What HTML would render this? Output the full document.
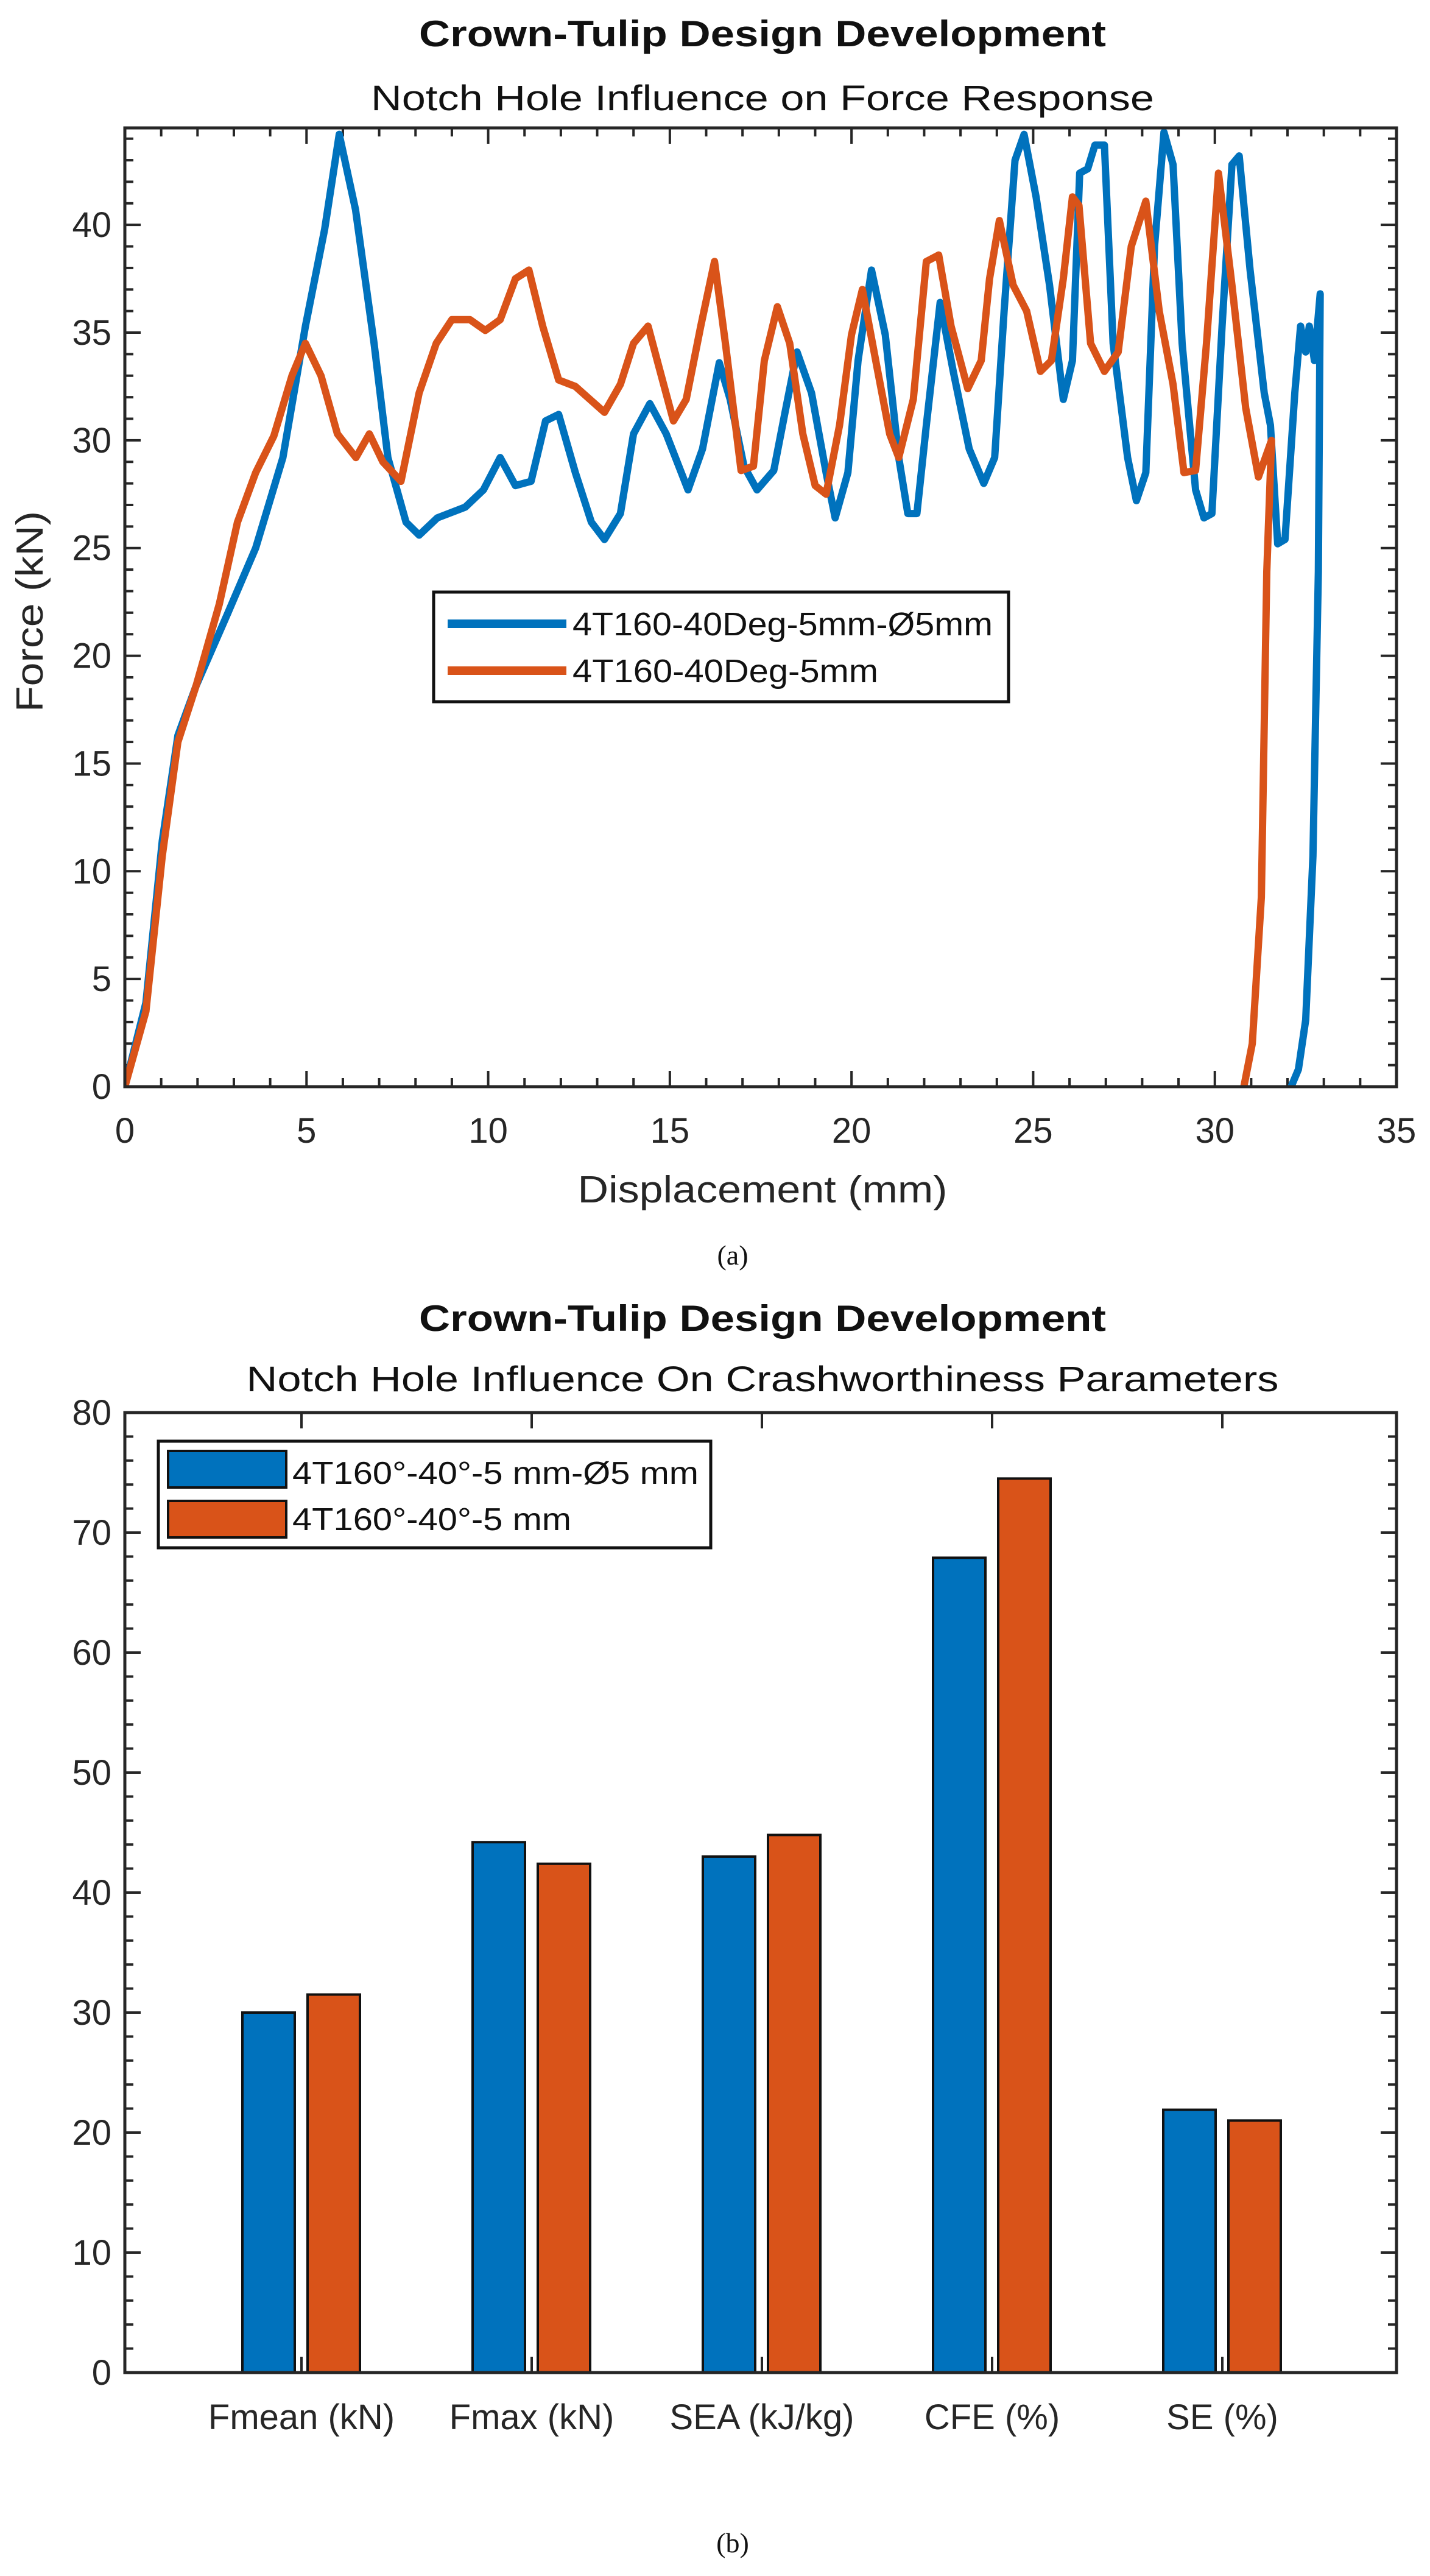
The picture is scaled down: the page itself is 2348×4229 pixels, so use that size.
<!DOCTYPE html>
<html><head><meta charset="utf-8"><style>
html,body{margin:0;padding:0;background:#fff}
svg{display:block;font-family:"Liberation Sans",Arial,sans-serif}
</style></head><body>
<svg id="svg" width="2348" height="4229" viewBox="0 0 2348 4229" xmlns="http://www.w3.org/2000/svg">
<rect width="2348" height="4229" fill="#fff"/>
<g id="top"></g>
<g id="bot"></g>
</svg>
<script>
// ---- chart (a) data ----
const blueX=[0,0.58,1.03,1.46,1.96,2.84,3.6,4.35,4.97,5.5,5.9,6.35,6.86,7.24,7.74,8.1,8.6,9.37,9.87,10.33,10.75,11.18,11.58,11.94,12.4,12.84,13.2,13.64,14,14.45,14.9,15.5,15.9,16.36,16.66,17.04,17.4,17.86,18.17,18.5,18.9,19.3,19.55,19.9,20.18,20.55,20.93,21.3,21.55,21.8,22.06,22.44,22.8,23.24,23.64,23.94,24.2,24.5,24.75,25.08,25.45,25.83,26.08,26.28,26.5,26.7,26.96,27.2,27.6,27.84,28.1,28.34,28.6,28.85,29.1,29.47,29.7,29.92,30.2,30.47,30.67,30.97,31.36,31.53,31.73,31.93,32.2,32.36,32.5,32.6,32.74,32.9,32.85,32.7,32.5,32.3,32.1];
const blueY=[0,3.9,11.4,16.3,18.6,22,25,29.2,35.3,39.8,44.2,40.7,34.5,29.2,26.2,25.6,26.4,26.9,27.7,29.2,27.9,28.1,30.9,31.2,28.5,26.2,25.4,26.6,30.3,31.7,30.3,27.7,29.6,33.6,31.9,28.8,27.7,28.6,31.3,34.1,32.2,28.5,26.4,28.5,33.7,37.9,34.9,29.2,26.6,26.6,30.7,36.4,33.2,29.6,28,29.2,36,43,44.2,41.3,37.2,31.9,33.7,42.4,42.6,43.7,43.7,34.5,29.2,27.2,28.5,39,44.3,42.8,34.5,27.7,26.4,26.6,35.3,42.8,43.2,37.9,32.2,30.7,25.2,25.4,32.2,35.3,34.1,35.3,33.7,36.8,23.9,10.7,3.1,0.8,0];
const orangeX=[0,0.58,1.03,1.46,1.96,2.6,3.1,3.6,4.1,4.6,4.97,5.4,5.85,6.36,6.73,7.1,7.6,8.1,8.57,9,9.5,9.92,10.33,10.75,11.12,11.5,11.94,12.4,13.2,13.64,14,14.4,14.7,15.1,15.45,15.85,16.23,16.53,16.96,17.3,17.6,17.96,18.3,18.66,19,19.3,19.67,20,20.3,20.7,21.05,21.3,21.7,22.06,22.4,22.74,23.2,23.57,23.8,24.07,24.45,24.82,25.2,25.5,25.83,26.08,26.26,26.58,26.96,27.34,27.7,28.1,28.47,28.85,29.15,29.47,29.77,30.1,30.47,30.85,31.2,31.56,31.43,31.28,31.03,30.8];
const orangeY=[0,3.5,10.7,16,18.6,22.4,26.2,28.5,30.2,33,34.5,33,30.3,29.2,30.3,29,28.1,32.2,34.5,35.6,35.6,35.1,35.6,37.5,37.9,35.3,32.8,32.5,31.3,32.6,34.5,35.3,33.4,30.9,31.9,35.3,38.3,34.5,28.6,28.8,33.7,36.2,34.5,30.3,27.9,27.5,30.7,34.9,37,33.4,30.3,29.2,31.9,38.3,38.6,35.3,32.4,33.7,37.5,40.2,37.2,36,33.2,33.7,37.5,41.3,40.9,34.5,33.2,34.1,39,41.1,36,32.6,28.5,28.6,34.5,42.4,37.2,31.5,28.3,30,23.9,8.8,2,0];
const xTicksA=[0,5,10,15,20,25,30,35];
const yTicksA=[0,5,10,15,20,25,30,35,40];
// ---- chart (b) data ----
const categories=["Fmean (kN)","Fmax (kN)","SEA (kJ/kg)","CFE (%)","SE (%)"];
const seriesHole=[30,44.2,43,67.9,21.9];
const seriesNoHole=[31.5,42.4,44.8,74.5,21];
const yTicksB=[0,10,20,30,40,50,60,70,80];

const NS="http://www.w3.org/2000/svg";
function mk(parent,tag,attrs,text){const e=document.createElementNS(NS,tag);for(const k in attrs)e.setAttribute(k,attrs[k]);if(text!==undefined)e.textContent=text;parent.appendChild(e);return e;}
const BLUE="#0072BD",ORANGE="#D95319",AX="#262626";

// ===== chart (a) =====
(function(){
const g=document.getElementById('top');
const L=205,R=2293,T=210,B=1784;
const xs=v=>L+(v-0)/(35-0)*(R-L);
const ys=v=>B-(v-0)/(44.5-0)*(B-T);
let t=mk(g,'text',{x:1252,y:76,'font-size':60,'font-weight':'bold','text-anchor':'middle',fill:'#111',textLength:1128,lengthAdjust:'spacingAndGlyphs'},'Crown-Tulip Design Development');

t=mk(g,'text',{x:1252,y:181,'font-size':58,'text-anchor':'middle',fill:'#111',textLength:1286,lengthAdjust:'spacingAndGlyphs'},'Notch Hole Influence on Force Response');

for(let v=0;v<=35;v++){const x=xs(v);const len=(v%5==0)?26:14;
 mk(g,'line',{x1:x,y1:B,x2:x,y2:B-len,stroke:AX,'stroke-width':4});
 mk(g,'line',{x1:x,y1:T,x2:x,y2:T+len,stroke:AX,'stroke-width':4});}
for(let v=0;v<=44;v++){const y=ys(v);const len=(v%5==0)?26:14;
 mk(g,'line',{x1:L,y1:y,x2:L+len,y2:y,stroke:AX,'stroke-width':4});
 mk(g,'line',{x1:R,y1:y,x2:R-len,y2:y,stroke:AX,'stroke-width':4});}
xTicksA.forEach(v=>{const e=mk(g,'text',{x:xs(v),y:1876,'font-size':58,'text-anchor':'middle',fill:AX},String(v));
 });
yTicksA.forEach(v=>{const e=mk(g,'text',{x:L-22,y:ys(v)+20,'font-size':58,'text-anchor':'end',fill:AX},String(v));
 });
const clip=mk(g,'clipPath',{id:'ca'});mk(clip,'rect',{x:L,y:T-10,width:R-L,height:B-T+10});
function line(X,Y,c,name){const d=X.map((x,i)=>(i?'L':'M')+xs(x).toFixed(1)+','+ys(Y[i]).toFixed(1)).join('');
 const p=mk(g,'path',{d:d,fill:'none',stroke:c,'stroke-width':12,'stroke-linejoin':'round','stroke-linecap':'round','clip-path':'url(#ca)'});
 }
line(blueX,blueY,BLUE,'series-notch-hole-line');
line(orangeX,orangeY,ORANGE,'series-no-hole-line');
mk(g,'rect',{x:L,y:T,width:R-L,height:B-T,fill:'none',stroke:AX,'stroke-width':5});
t=mk(g,'text',{x:1252,y:1974,'font-size':62,'text-anchor':'middle',fill:AX,textLength:607,lengthAdjust:'spacingAndGlyphs'},'Displacement (mm)');

t=mk(g,'text',{x:0,y:0,'font-size':62,'text-anchor':'middle',fill:AX,transform:'translate(70,1004) rotate(-90)',textLength:330,lengthAdjust:'spacingAndGlyphs'},'Force (kN)');

const lg=mk(g,'g',{});
mk(lg,'rect',{x:712,y:972,width:944,height:180,fill:'#fff',stroke:'#111','stroke-width':5});
mk(lg,'line',{x1:735,y1:1024,x2:930,y2:1024,stroke:BLUE,'stroke-width':14});
mk(lg,'line',{x1:735,y1:1101,x2:930,y2:1101,stroke:ORANGE,'stroke-width':14});
t=mk(lg,'text',{x:940,y:1043,'font-size':54,fill:'#111',textLength:690,lengthAdjust:'spacingAndGlyphs'},'4T160-40Deg-5mm-Ø5mm');

t=mk(lg,'text',{x:940,y:1120,'font-size':54,fill:'#111',textLength:502,lengthAdjust:'spacingAndGlyphs'},'4T160-40Deg-5mm');

t=mk(g,'text',{x:1203,y:2076,'font-size':46,'font-family':'Liberation Serif, serif','text-anchor':'middle',fill:'#111'},'(a)');

})();

// ===== chart (b) =====
(function(){
const g=document.getElementById('bot');
const L=205,R=2293,T=2319,B=3895;
const cx=i=>495+378*i;
const ys=v=>B-v/80*(B-T);
let t=mk(g,'text',{x:1252,y:2185,'font-size':60,'font-weight':'bold','text-anchor':'middle',fill:'#111',textLength:1128,lengthAdjust:'spacingAndGlyphs'},'Crown-Tulip Design Development');

t=mk(g,'text',{x:1252,y:2284,'font-size':58,'text-anchor':'middle',fill:'#111',textLength:1695,lengthAdjust:'spacingAndGlyphs'},'Notch Hole Influence On Crashworthiness Parameters');

for(let v=0;v<=80;v+=2){const y=ys(v);const len=(v%10==0)?26:14;
 mk(g,'line',{x1:L,y1:y,x2:L+len,y2:y,stroke:AX,'stroke-width':4});
 mk(g,'line',{x1:R,y1:y,x2:R-len,y2:y,stroke:AX,'stroke-width':4});}
yTicksB.forEach(v=>{const e=mk(g,'text',{x:L-22,y:ys(v)+20,'font-size':58,'text-anchor':'end',fill:AX},String(v));
 });
categories.forEach((c,i)=>{
 mk(g,'line',{x1:cx(i),y1:B,x2:cx(i),y2:B-26,stroke:AX,'stroke-width':4});
 mk(g,'line',{x1:cx(i),y1:T,x2:cx(i),y2:T+26,stroke:AX,'stroke-width':4});
 const e=mk(g,'text',{x:cx(i),y:3988,'font-size':58,'text-anchor':'middle',fill:AX},c);
 
 const b1=mk(g,'rect',{x:cx(i)-97,y:ys(seriesHole[i]),width:86,height:B-ys(seriesHole[i]),fill:BLUE,stroke:'#111','stroke-width':4});
 
 const b2=mk(g,'rect',{x:cx(i)+10,y:ys(seriesNoHole[i]),width:86,height:B-ys(seriesNoHole[i]),fill:ORANGE,stroke:'#111','stroke-width':4});
 
});
mk(g,'rect',{x:L,y:T,width:R-L,height:B-T,fill:'none',stroke:AX,'stroke-width':5});
const lg=mk(g,'g',{});
mk(lg,'rect',{x:260,y:2366,width:907,height:175,fill:'#fff',stroke:'#111','stroke-width':5});
mk(lg,'rect',{x:276,y:2382,width:194,height:60,fill:BLUE,stroke:'#111','stroke-width':4});
mk(lg,'rect',{x:276,y:2464,width:194,height:60,fill:ORANGE,stroke:'#111','stroke-width':4});
t=mk(lg,'text',{x:480,y:2436,'font-size':52,fill:'#111',textLength:667,lengthAdjust:'spacingAndGlyphs'},'4T160°-40°-5 mm-Ø5 mm');

t=mk(lg,'text',{x:480,y:2512,'font-size':52,fill:'#111',textLength:458,lengthAdjust:'spacingAndGlyphs'},'4T160°-40°-5 mm');

t=mk(g,'text',{x:1203,y:4190,'font-size':46,'font-family':'Liberation Serif, serif','text-anchor':'middle',fill:'#111'},'(b)');

})();
</script>
</body></html>
